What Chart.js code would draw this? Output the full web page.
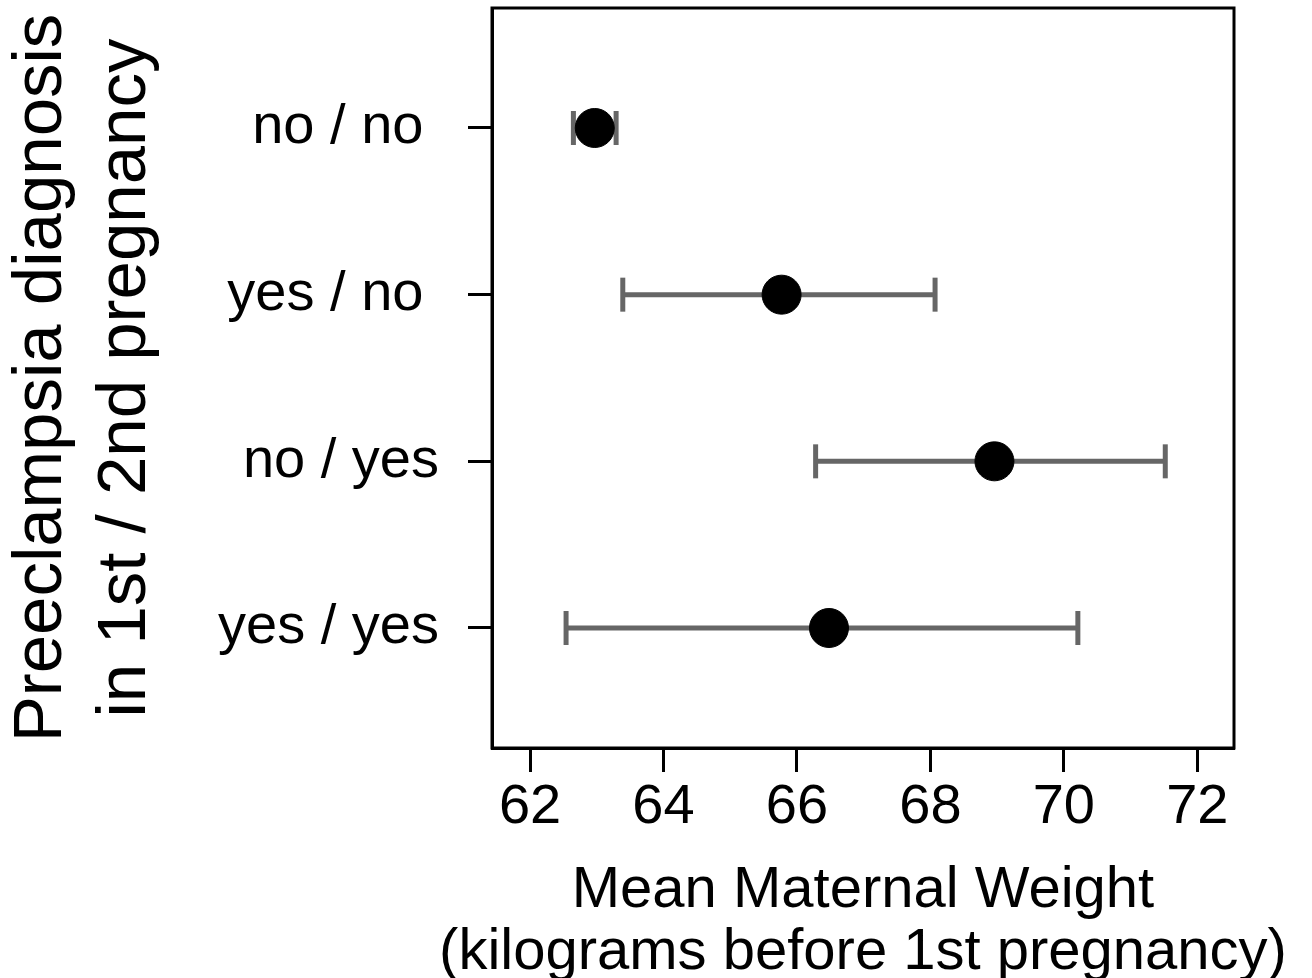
<!DOCTYPE html>
<html>
<head>
<meta charset="utf-8">
<script src="https://cdn.jsdelivr.net/npm/chart.js@4/dist/chart.umd.min.js"></script>
<style>
  html, body { margin: 0; padding: 0; background: #fff; }
  #wrap { width: 1312px; height: 978px; }
</style>
</head>
<body>
<div id="wrap"><canvas id="forestChart" width="1312" height="978"></canvas></div>
<script>
// categories (top to bottom) and values
var categories = ["no / no ", "yes / no ", "no / yes", "yes / yes"];
var means = [62.97, 65.77, 68.96, 66.48];
var lower = [62.65, 63.39, 66.28, 62.54];
var upper = [63.29, 68.07, 71.52, 70.21];
var xTicks = [62, 64, 66, 68, 70, 72];
var xTitle = ["Mean Maternal Weight", "(kilograms before 1st pregnancy)"];
var yTitle = ["Preeclampsia diagnosis", "in 1st / 2nd pregnancy"];

var barColor = "#666666";
var fontFamily = "'Liberation Sans', Arial, sans-serif";

// box round the plot area, and the x title (the axis title would be squeezed to the axis width)
var frame = {
    id: "frame",
    afterDraw: function(chart) {
	var a = chart.chartArea, ctx = chart.ctx;
	ctx.save();
	ctx.strokeStyle = "#000";
	ctx.lineWidth = 3;
	ctx.strokeRect(a.left, a.top, a.right - a.left, a.bottom - a.top);
	ctx.fillStyle = "#000";
	ctx.font = "58px " + fontFamily;
	ctx.textAlign = "center";
	ctx.textBaseline = "middle";
	var cx = (a.left + a.right) / 2;
	ctx.fillText(xTitle[0], cx, a.bottom + 143);
	ctx.fillText(xTitle[1], cx, a.bottom + 205);
	ctx.restore();
    }
};

function renderGraph() {
    var ctx = document.getElementById("forestChart").getContext("2d");

    var datasets = [{
	type: "scatter",
	label: "mean",
	data: means.map(function(m, i) { return {x: m, y: i}; }),
	backgroundColor: "#000",
	borderColor: "#000",
	pointRadius: 19.5,
	pointHoverRadius: 19.5,
	order: 0
    }];

    for (var i = 0; i < categories.length; i++) {
	datasets.push({
	    type: "line",
	    label: "ci " + i,
	    data: [{x: lower[i], y: i}, {x: upper[i], y: i}],
	    borderColor: barColor,
	    borderWidth: 5,
	    pointStyle: "line",
	    pointRotation: 90,
	    pointRadius: 17,
	    pointHoverRadius: 17,
	    pointBorderWidth: 5,
	    pointBorderColor: barColor,
	    order: 1
	});
    }

    new Chart(ctx, {
	data: {datasets: datasets},
	options: {
	    responsive: false,
	    animation: false,
	    layout: {autoPadding: false, padding: {top: 8, right: 78, bottom: 0, left: 0}},
	    plugins: {legend: {display: false}, tooltip: {enabled: false}},
	    scales: {
		x: {
		    type: "linear",
		    position: "bottom",
		    min: 61.43,
		    max: 72.55,
		    afterBuildTicks: function(s) { s.ticks = xTicks.map(function(v) { return {value: v}; }); },
		    afterFit: function(s) { s.height = 230; s.paddingLeft = 0; s.paddingRight = 0; },
		    grid: {drawOnChartArea: false, drawTicks: true, tickLength: 24, tickWidth: 3, tickColor: "#000"},
		    border: {display: true, color: "#000", width: 3},
		    ticks: {color: "#000", padding: 2, font: {family: fontFamily, size: 56}}
		},
		y: {
		    type: "linear",
		    position: "left",
		    reverse: true,
		    min: -0.72,
		    max: 3.72,
		    afterBuildTicks: function(s) { s.ticks = categories.map(function(c, i) { return {value: i}; }); },
		    afterFit: function(s) { s.width = 492; s.paddingTop = 0; s.paddingBottom = 0; },
		    grid: {drawOnChartArea: false, drawTicks: true, tickLength: 24, tickWidth: 3, tickColor: "#000"},
		    border: {display: true, color: "#000", width: 3},
		    ticks: {
			color: "#000",
			padding: 29,
			font: {family: fontFamily, size: 56},
			callback: function(v) { return categories[v]; }
		    },
		    title: {
			display: true,
			text: yTitle,
			color: "#000",
			padding: {top: 0, bottom: 0},
			font: {family: fontFamily, size: 69, lineHeight: 1.22}
		    }
		}
	    }
	},
	plugins: [frame]
    });
}

renderGraph();
</script>
</body>
</html>
